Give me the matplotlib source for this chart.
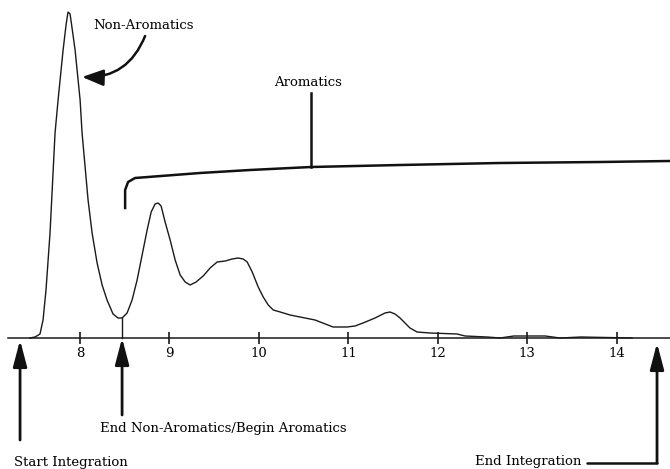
import matplotlib
matplotlib.use("Agg")
import matplotlib.pyplot as plt

plt.rcParams['font.family'] = ['DejaVu Serif']

# Chromatogram trace: retention time (min) and detector response (arbitrary units)
time = [7.44, 7.50, 7.555, 7.589, 7.622, 7.667, 7.723, 7.757, 7.813, 7.846, 7.868,
        7.891, 7.924, 7.947, 8.003, 8.025, 8.092, 8.137, 8.193, 8.249, 8.304, 8.371,
        8.427, 8.472, 8.528, 8.584, 8.640, 8.696, 8.752, 8.797, 8.841, 8.875, 8.908,
        8.953, 9.009, 9.065, 9.121, 9.177, 9.232, 9.299, 9.378, 9.456, 9.534, 9.624,
        9.702, 9.769, 9.825, 9.870, 9.926, 9.993, 10.049, 10.105, 10.161, 10.239,
        10.349, 10.460, 10.628, 10.829, 10.985, 11.075, 11.164, 11.298, 11.410,
        11.466, 11.521, 11.578, 11.633, 11.689, 11.768, 11.913, 12.215, 12.304,
        12.550, 12.695, 12.85, 12.974, 13.20, 13.365, 13.60, 14.170]
response = [0, 1, 4, 18, 48, 105, 205, 238, 288, 313, 326,
            324, 303, 288, 238, 205, 138, 105, 75, 53, 38, 24,
            20, 20, 25, 38, 58, 83, 108, 126, 134, 135, 132,
            116, 98, 78, 63, 56, 53, 56, 62, 70, 76, 77,
            79, 80, 79, 76, 66, 51, 41, 33, 28, 26,
            23, 21, 18, 11, 11, 12, 15, 20, 25,
            26, 24, 20, 15, 10, 6, 5, 4, 2,
            1, 0, 2, 2, 2, 0, 1, 0]

ticks = [8, 9, 10, 11, 12, 13, 14]

start_time = 7.332
split_time = 8.472
end_time = 14.449

# Aromatics bracket outline
bracket_t = [8.506, 8.506, 8.539, 8.617, 9.343, 9.902, 10.583, 11.578, 12.695, 13.812, 14.594]
bracket_h = [130, 148, 156, 160, 165, 168, 171, 173, 175, 176, 177]

fig = plt.figure(figsize=(6.7, 4.69), dpi=100)
ax = fig.add_axes([0, 0, 1, 1])
ax.set_xlim(7.108, 14.594)
ax.set_ylim(-131, 338)

ax.plot(time, response, color='#1a1a1a', lw=1.0)

# baseline axis with ticks
for s in ['left', 'right', 'top']:
    ax.spines[s].set_visible(False)
ax.spines['bottom'].set_position(('data', 0))
ax.spines['bottom'].set_bounds(7.197, 14.594)
ax.spines['bottom'].set_linewidth(1.1)
ax.spines['bottom'].set_color('#1a1a1a')
ax.set_yticks([])
ax.set_xticks(ticks)
ax.tick_params(axis='x', direction='inout', length=9, width=1.2, color='#1a1a1a',
               labelsize=9.5, pad=2)

# split line from baseline up to the valley
ax.plot([split_time, split_time], [0, 20], color='#1a1a1a', lw=1.0)

arrow_kw = dict(arrowstyle='-|>,head_length=1.6,head_width=0.42', color='#111111',
                lw=2.0, shrinkA=0, shrinkB=0)

ax.annotate('', xy=(start_time, -2), xytext=(start_time, -102), arrowprops=arrow_kw)
ax.text(7.265, -124, 'Start Integration', fontsize=9.5, va='center', ha='left')

ax.annotate('', xy=(split_time, 0), xytext=(split_time, -77), arrowprops=arrow_kw)
ax.text(8.226, -90, 'End Non-Aromatics/Begin Aromatics', fontsize=9.5, va='center', ha='left')

ax.annotate('', xy=(end_time, -5), xytext=(end_time, -125), arrowprops=arrow_kw)
ax.plot([13.664, end_time], [-125, -125], color='#111111', lw=1.8, solid_capstyle='round')
ax.text(13.60, -123, 'End Integration', fontsize=9.5, va='center', ha='right')

# aromatics bracket
ax.plot(bracket_t, bracket_h, color='#111111', lw=1.8)
ax.plot([10.583, 10.583], [171, 245], color='#111111', lw=1.8)
ax.text(10.55, 256, 'Aromatics', fontsize=9.5, va='center', ha='center')

# non-aromatics label with curved arrow
ax.text(8.147, 313, 'Non-Aromatics', fontsize=9.5, va='center', ha='left')
ax.annotate('', xy=(8.025, 261), xytext=(8.729, 302),
            arrowprops=dict(arrowstyle='-|>,head_length=1.3,head_width=0.5', color='#111111',
                            lw=1.8, shrinkA=0, shrinkB=0, connectionstyle='arc3,rad=-0.35'))

fig.savefig('out.png', dpi=100)
